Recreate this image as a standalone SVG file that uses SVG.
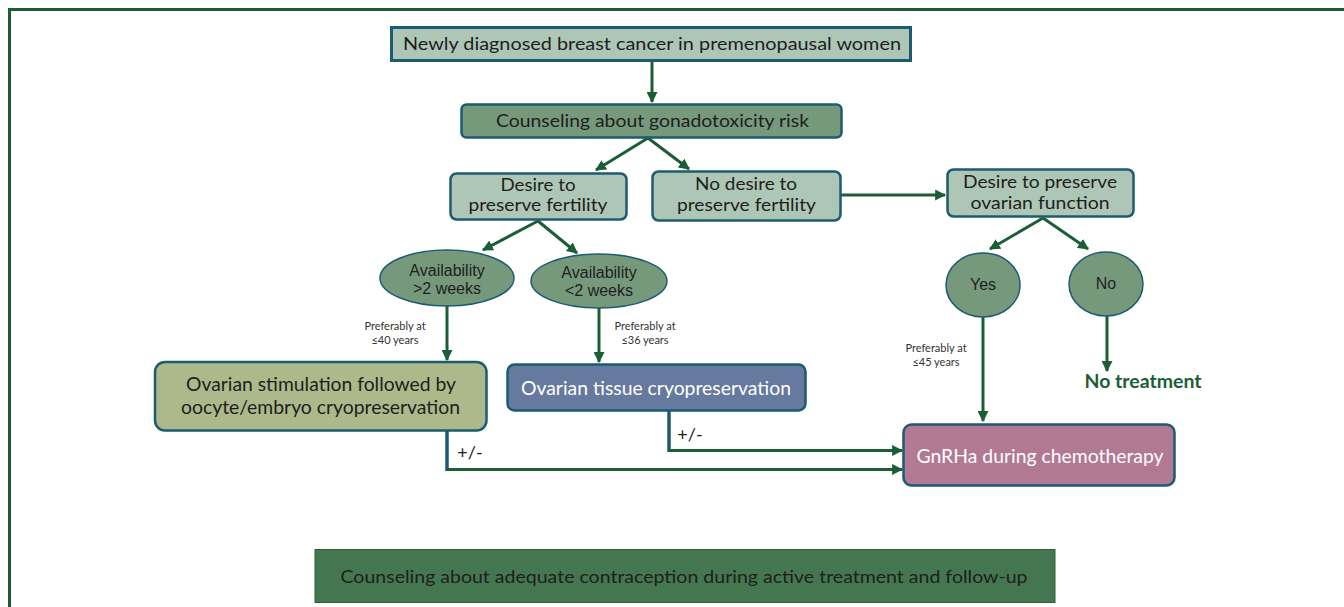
<svg xmlns="http://www.w3.org/2000/svg" width="1344" height="607" viewBox="0 0 1344 607">
<style>
.bx{stroke:#1d5b72;stroke-width:2.5}
.lt{fill:#adc6b5}
.md{fill:#76997c}
.t{font-family:Lato,"Open Sans","Liberation Sans",sans-serif;fill:#1e1e1e;text-anchor:middle}
.a{font-family:"Liberation Sans",Arial,sans-serif;fill:#1e1e1e;text-anchor:middle;font-size:16px}
.s{font-family:Lato,"Open Sans","Liberation Sans",sans-serif;fill:#333;text-anchor:middle;font-size:11px}
.w{fill:#ffffff}
.c{stroke:#1b5e35;stroke-width:3;fill:none}
.v{stroke:#1d5b72;stroke-width:3.5;fill:none}
</style>
<defs>
<marker id="ah" viewBox="0 0 10 10" refX="9" refY="5" markerWidth="11" markerHeight="11" markerUnits="userSpaceOnUse" orient="auto">
<path d="M0,0 L10,5 L0,10 z" fill="#1b5e35"/>
</marker>
</defs>
<rect width="1344" height="607" fill="#ffffff"/>
<g id="frame"><path d="M9.5,607 V9.5 H1344" fill="none" stroke="#1a5c36" stroke-width="3"/></g>

<g id="connectors">
<line class="c" x1="652" y1="61" x2="652" y2="102" marker-end="url(#ah)"/>
<line class="c" x1="648" y1="138" x2="596" y2="170" marker-end="url(#ah)"/>
<line class="c" x1="648" y1="138" x2="689" y2="169" marker-end="url(#ah)"/>
<line class="c" x1="538" y1="221" x2="483" y2="250" marker-end="url(#ah)"/>
<line class="c" x1="538" y1="221" x2="577" y2="253" marker-end="url(#ah)"/>
<line class="c" x1="841" y1="195" x2="945" y2="195" marker-end="url(#ah)"/>
<line class="c" x1="1043" y1="218" x2="990" y2="249" marker-end="url(#ah)"/>
<line class="c" x1="1043" y1="218" x2="1088" y2="249" marker-end="url(#ah)"/>
<line class="c" x1="983" y1="317" x2="983" y2="421" marker-end="url(#ah)"/>
<line class="c" x1="1107" y1="316" x2="1107" y2="371" marker-end="url(#ah)"/>
<line class="c" x1="447" y1="306" x2="447" y2="360" marker-end="url(#ah)"/>
<line class="c" x1="599" y1="308" x2="599" y2="362" marker-end="url(#ah)"/>
<line class="v" x1="447" y1="431" x2="447" y2="471"/>
<line class="c" x1="447" y1="469.5" x2="902" y2="469.5" marker-end="url(#ah)"/>
<line class="v" x1="669" y1="411" x2="669" y2="452"/>
<line class="c" x1="669" y1="450.5" x2="902" y2="450.5" marker-end="url(#ah)"/>
<text class="t" x="470" y="459" font-size="18">+/-</text>
<text class="t" x="690" y="441" font-size="18">+/-</text>
<text class="s" x="395" y="330">Preferably at</text>
<text class="s" x="395" y="344">≤40 years</text>
<text class="s" x="645" y="330">Preferably at</text>
<text class="s" x="645" y="344">≤36 years</text>
<text class="s" x="936" y="352">Preferably at</text>
<text class="s" x="936" y="366">≤45 years</text>
</g>

<g id="n_newly">
<rect class="lt" x="391.5" y="27.5" width="519" height="33" stroke="#1d5b72" stroke-width="3"/>
<text class="t" x="652" y="50" font-size="18" textLength="498" lengthAdjust="spacingAndGlyphs">Newly diagnosed breast cancer in premenopausal women</text>
</g>

<g id="n_counsel">
<rect class="bx md" x="461.5" y="104.5" width="380" height="33" rx="5"/>
<text class="t" x="652.5" y="127" font-size="18" textLength="313" lengthAdjust="spacingAndGlyphs">Counseling about gonadotoxicity risk</text>
</g>

<g id="n_desire">
<rect class="bx lt" x="450.5" y="173.5" width="176" height="46" rx="6"/>
<text class="t" x="538" y="191" font-size="18" textLength="75" lengthAdjust="spacingAndGlyphs">Desire to</text>
<text class="t" x="538" y="211" font-size="18" textLength="139" lengthAdjust="spacingAndGlyphs">preserve fertility</text>
</g>

<g id="n_nodesire">
<rect class="bx lt" x="652.5" y="171.5" width="188" height="49" rx="6"/>
<text class="t" x="746" y="190" font-size="18" textLength="102" lengthAdjust="spacingAndGlyphs">No desire to</text>
<text class="t" x="746.5" y="211" font-size="18" textLength="139" lengthAdjust="spacingAndGlyphs">preserve fertility</text>
</g>

<g id="n_ovfunc">
<rect class="bx lt" x="947.5" y="169.5" width="186" height="47" rx="6"/>
<text class="t" x="1040" y="188" font-size="18" textLength="154" lengthAdjust="spacingAndGlyphs">Desire to preserve</text>
<text class="t" x="1040" y="209" font-size="18" textLength="139" lengthAdjust="spacingAndGlyphs">ovarian function</text>
</g>

<g id="n_avail_gt">
<ellipse class="md" cx="447" cy="278" rx="67" ry="28" stroke="#1d5b72" stroke-width="1.5"/>
<text class="a" x="447" y="276">Availability</text>
<text class="a" x="447" y="294">&gt;2 weeks</text>
</g>

<g id="n_avail_lt">
<ellipse class="md" cx="599" cy="281" rx="68" ry="27" stroke="#1d5b72" stroke-width="1.5"/>
<text class="a" x="599" y="278">Availability</text>
<text class="a" x="599" y="296">&lt;2 weeks</text>
</g>

<g id="n_yes">
<ellipse class="md" cx="983" cy="285" rx="37" ry="32" stroke="#1d5b72" stroke-width="1.5"/>
<text class="a" x="983" y="290">Yes</text>
</g>

<g id="n_no">
<ellipse class="md" cx="1106" cy="284" rx="37" ry="32" stroke="#1d5b72" stroke-width="1.5"/>
<text class="a" x="1106" y="289">No</text>
</g>

<g id="n_notreat">
<text x="1143" y="388" font-family="Lato,'Open Sans','Liberation Sans',sans-serif" font-weight="bold" font-size="18" fill="#1b5e35" text-anchor="middle" textLength="117" lengthAdjust="spacingAndGlyphs">No treatment</text>
</g>

<g id="n_stim">
<rect class="bx" x="155" y="362" width="331.5" height="68.5" rx="10" fill="#adb98a"/>
<text class="t" x="321" y="391" font-size="19" textLength="270" lengthAdjust="spacingAndGlyphs">Ovarian stimulation followed by</text>
<text class="t" x="320.5" y="414" font-size="19" textLength="279" lengthAdjust="spacingAndGlyphs">oocyte/embryo cryopreservation</text>
</g>

<g id="n_tissue">
<rect class="bx" x="507.5" y="364.5" width="298" height="46" rx="7" fill="#66799e"/>
<text class="t w" x="656" y="395" font-size="19" textLength="270" lengthAdjust="spacingAndGlyphs">Ovarian tissue cryopreservation</text>
</g>

<g id="n_gnrha">
<rect class="bx" x="903.5" y="424.5" width="271" height="61" rx="8" fill="#b27995"/>
<text class="t w" x="1040" y="463" font-size="19" textLength="247" lengthAdjust="spacingAndGlyphs">GnRHa during chemotherapy</text>
</g>

<g id="n_contra">
<rect x="315" y="549.5" width="740" height="53" fill="#44774f" stroke="#2e5e3b" stroke-width="1"/>
<text class="t" x="684" y="583" font-size="17" textLength="687" lengthAdjust="spacingAndGlyphs">Counseling about adequate contraception during active treatment and follow-up</text>
</g>
</svg>
